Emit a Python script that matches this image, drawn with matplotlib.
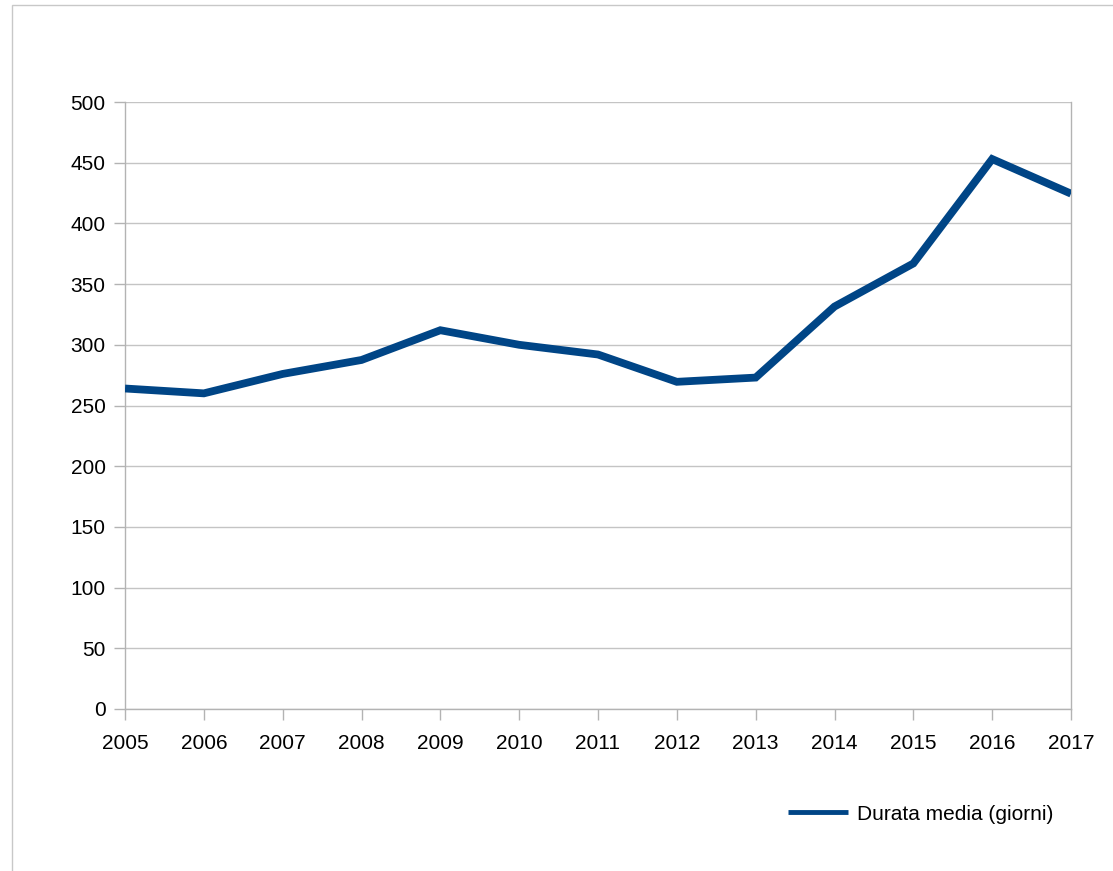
import matplotlib
matplotlib.use("Agg")
import matplotlib.pyplot as plt
from matplotlib.patches import Rectangle

years = ["2005", "2006", "2007", "2008", "2009", "2010", "2011",
         "2012", "2013", "2014", "2015", "2016", "2017"]
durata = [264, 260, 276, 287.5, 312, 300, 292, 269.5, 273, 331.5, 367, 453, 424.5]
series_label = "Durata media (giorni)"
yticks = [0, 50, 100, 150, 200, 250, 300, 350, 400, 450, 500]

plt.rcParams['font.family'] = ['Liberation Sans', 'DejaVu Sans']

W, H = 1113, 871
fig = plt.figure(figsize=(W / 100, H / 100), dpi=100)
fig.patch.set_facecolor('white')

# outer frame
fig.add_artist(Rectangle((12 / W, -0.01), 1.05, 1 - 5 / H + 0.01, transform=fig.transFigure,
                         fill=False, edgecolor='#c8c8c8', linewidth=1.0))

ax = fig.add_axes([125 / W, 1 - 709 / H, (1071 - 125) / W, (709 - 102) / H])
x = list(range(len(years)))
ax.plot(x, durata, color='#004586', linewidth=5.6, solid_joinstyle='miter',
        solid_capstyle='butt', label=series_label, zorder=3)

ax.set_xlim(0, len(years) - 1)
ax.set_ylim(0, 500)
ax.set_xticks(x)
ax.set_xticklabels(years)
ax.set_yticks(yticks)
ax.yaxis.grid(True, color='#c4c4c4', linewidth=1.0)
ax.set_axisbelow(True)

for s in ['left', 'right', 'bottom']:
    ax.spines[s].set_color('#b3b3b3')
    ax.spines[s].set_linewidth(1.0)
ax.spines['top'].set_visible(False)

ax.tick_params(axis='both', colors='#b3b3b3', labelcolor='black', labelsize=15,
               length=8, width=1.0, direction='out')
ax.tick_params(axis='x', pad=10)
ax.tick_params(axis='y', pad=6)

leg = fig.legend(loc='center left', bbox_to_anchor=(788 / W, 1 - 814 / H),
                 frameon=False, fontsize=15, handlelength=2.9, handletextpad=0.4,
                 borderpad=0, borderaxespad=0)
for h in leg.get_lines():
    h.set_linewidth(3.5)

fig.savefig('out.png', dpi=100, facecolor='white')
